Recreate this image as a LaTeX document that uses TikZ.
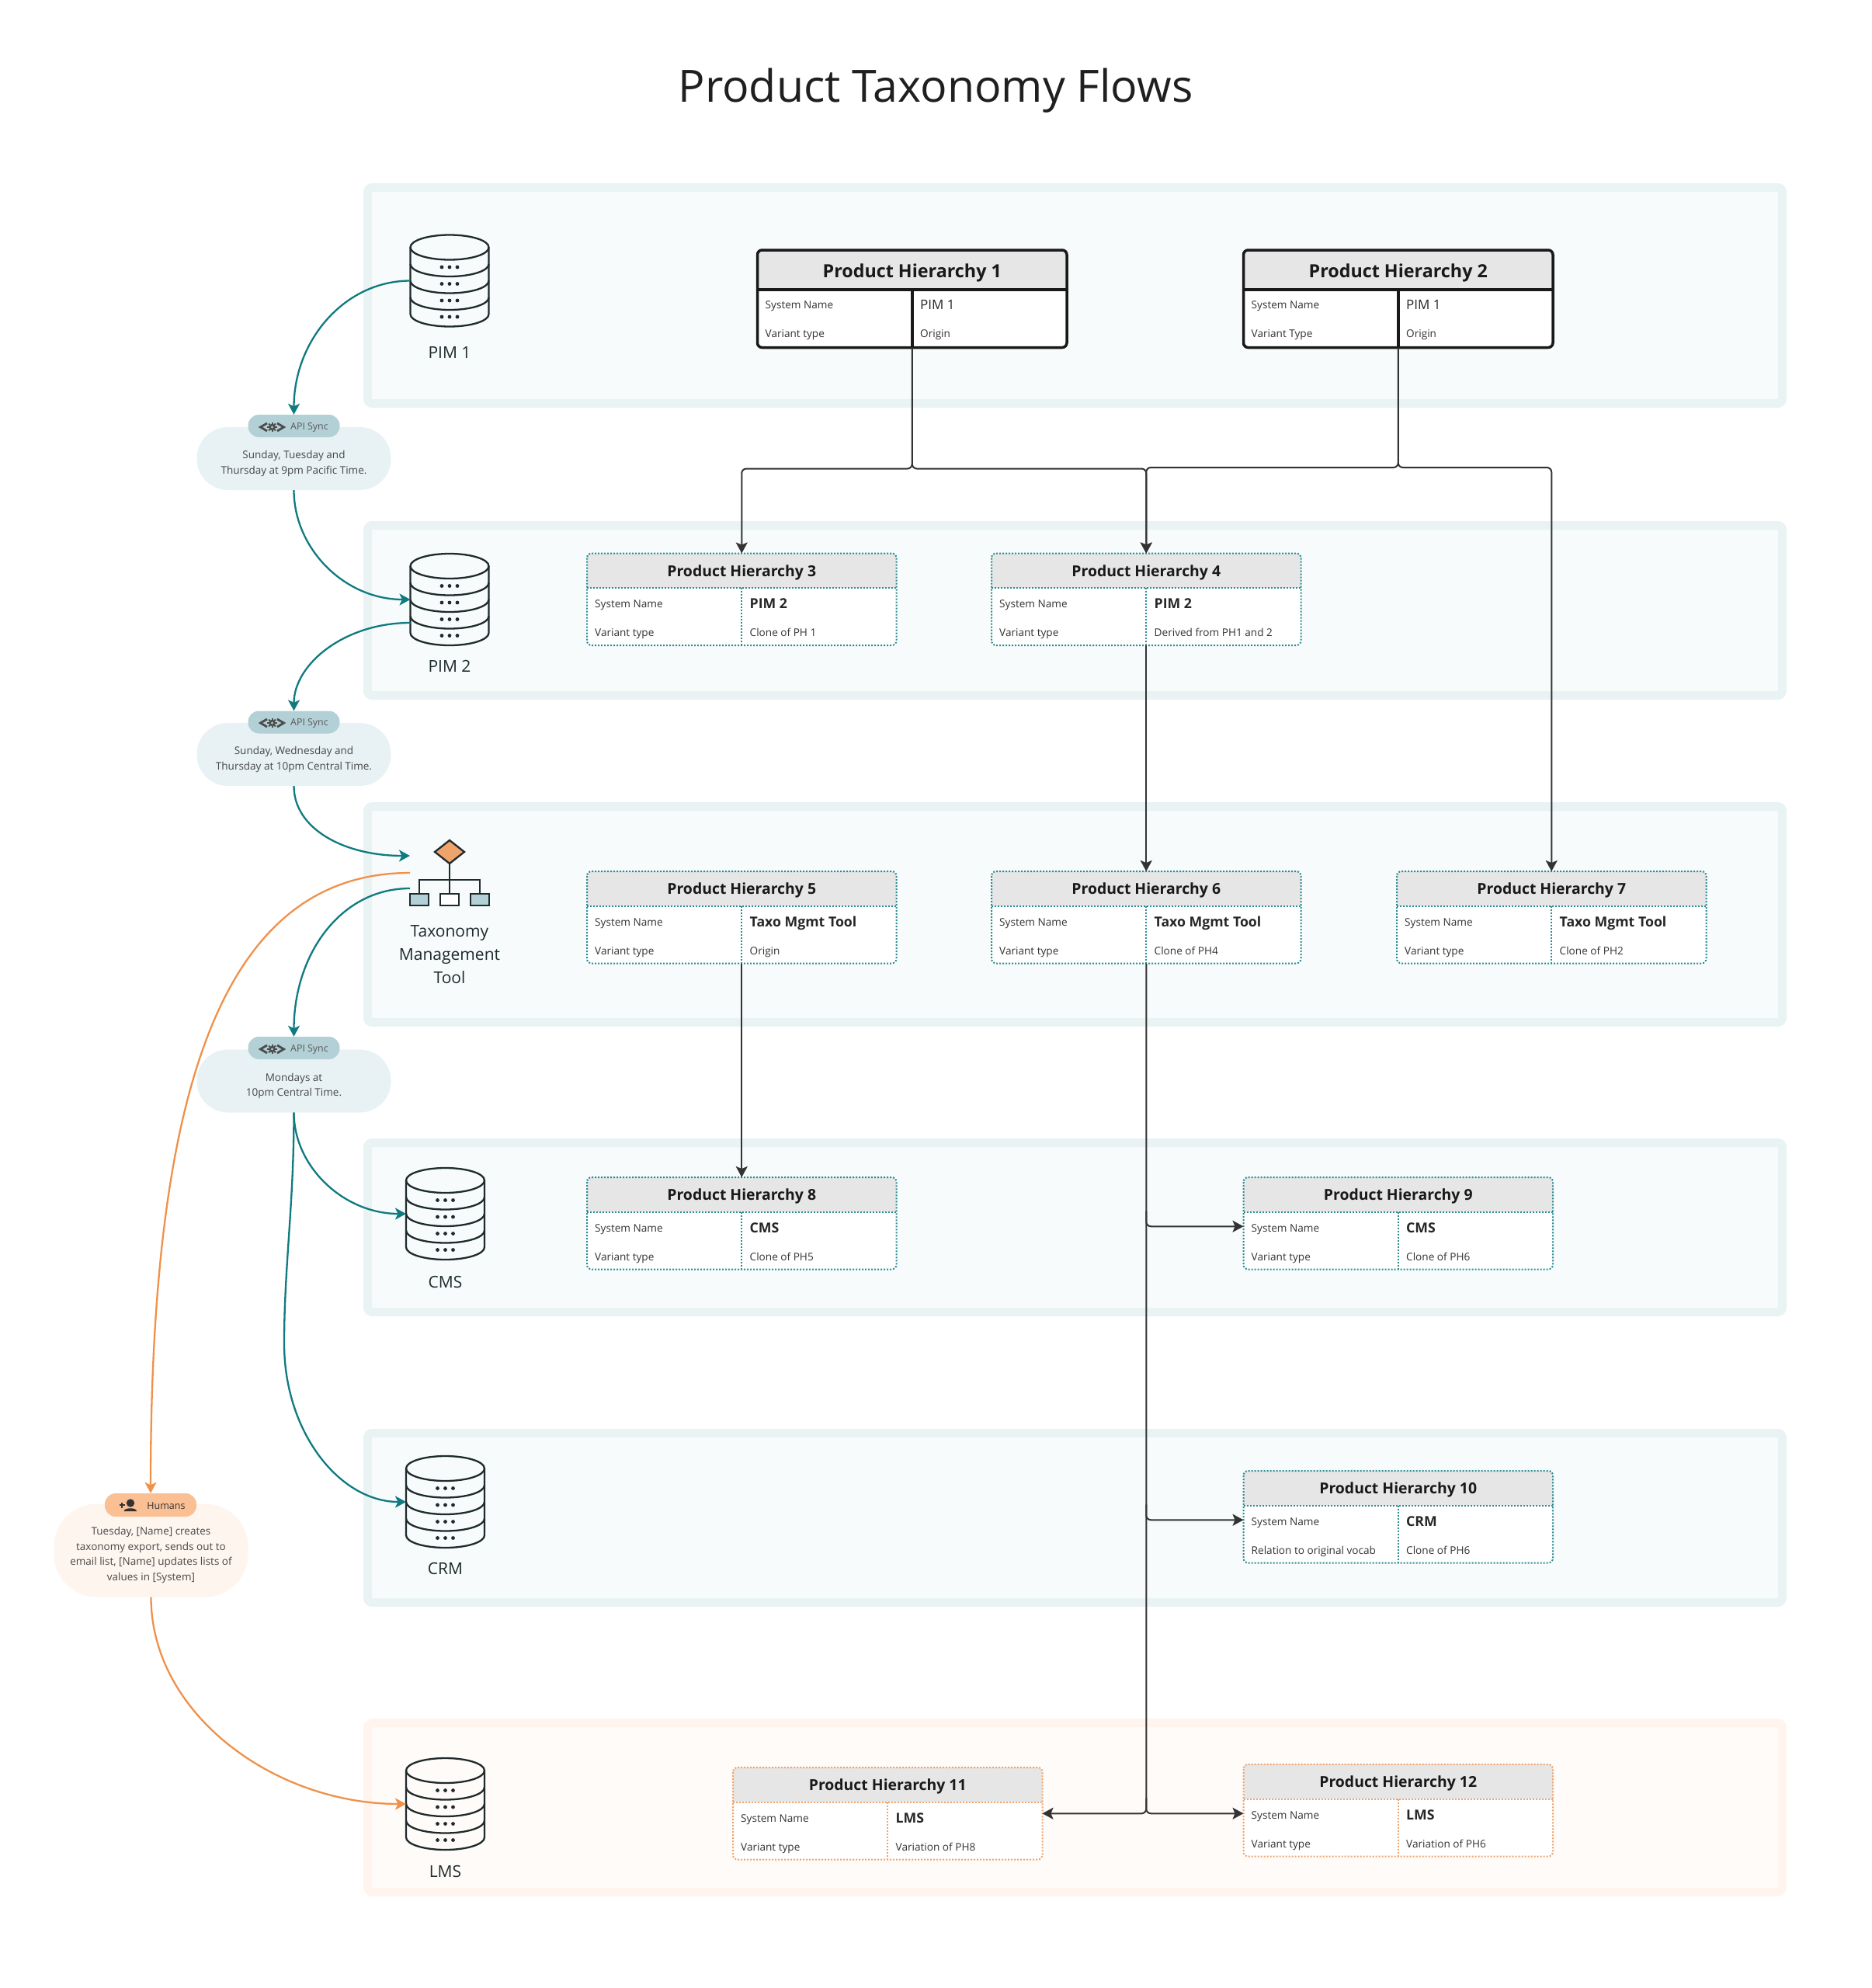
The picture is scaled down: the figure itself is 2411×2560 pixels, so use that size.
\documentclass[tikz,border=0pt]{standalone}
\usepackage{fontspec}
\setmainfont{Open Sans}
\usetikzlibrary{arrows.meta,calc}
\definecolor{teal1}{HTML}{0F7A80}
\definecolor{tealdot}{HTML}{2A8C92}
\definecolor{orange1}{HTML}{F0914A}
\definecolor{orangedot}{HTML}{EFA46C}
\definecolor{panelT}{HTML}{E9F3F4}
\definecolor{panelTi}{HTML}{F7FBFC}
\definecolor{panelO}{HTML}{FFF5EE}
\definecolor{panelOi}{HTML}{FFFBF8}
\definecolor{hdr}{HTML}{E6E6E6}
\definecolor{ink}{HTML}{1E2A2C}
\definecolor{conn}{HTML}{333333}
\definecolor{pillT}{HTML}{E8F2F4}
\definecolor{badgeT}{HTML}{B2D0D6}
\definecolor{pillO}{HTML}{FFF5EF}
\definecolor{badgeO}{HTML}{FBBF94}
\newcommand{\szf}[2]{\fontsize{#1}{#2}\selectfont}
\tikzset{
  x=1pt,y=-1pt,
  panelblue/.style={draw=panelT,fill=panelTi,line width=11pt,rounded corners=6pt},
  panelorange/.style={draw=panelO,fill=panelOi,line width=11pt,rounded corners=6pt},
  heavybox/.style={draw=black!90,line width=3.5pt,solid},
  tealbox/.style={draw=tealdot,line width=2pt,dotted},
  orangebox/.style={draw=orangedot,line width=2pt,dotted},
  flow/.style={draw=conn,line width=2pt,rounded corners=6pt,-{Stealth[length=14pt,width=15pt,inset=3pt]}},
  teala/.style={draw=teal1,line width=2.3pt,-{Stealth[length=14pt,width=15pt,inset=3.5pt]}},
  orangea/.style={draw=orange1,line width=2.3pt,-{Stealth[length=14pt,width=15pt,inset=3.5pt]}},
  lbl/.style={inner sep=0pt,text=ink,font=\szf{21}{30},align=center},
  pill/.style={inner sep=0pt,minimum width=250pt,rounded corners=40pt},
  pilltext/.style={inner sep=0pt,align=center,text=black!72,font=\szf{13.5}{19.5}},
  badge/.style={inner sep=0pt,minimum width=118pt,minimum height=29pt,rounded corners=14pt},
  icoline/.style={draw=ink,line width=2.3pt},
}
\newcommand{\tabH}{118.5}\newcommand{\tabHead}{44.5}\newcommand{\rowA}{67.5}\newcommand{\rowB}{104.5}
\newcommand{\titleFont}{}\newcommand{\valFont}{}\newcommand{\titleDrop}{}
\newcommand{\heavymode}{%
  \renewcommand{\tabH}{125.5}\renewcommand{\tabHead}{51}\renewcommand{\rowA}{73}\renewcommand{\rowB}{110}%
  \renewcommand{\titleDrop}{4}%
  \renewcommand{\titleFont}{\bfseries\szf{23.3}{30}}\renewcommand{\valFont}{\szf{17}{24}}}
\newcommand{\lightmode}{%
  \renewcommand{\tabH}{118.5}\renewcommand{\tabHead}{44.5}\renewcommand{\rowA}{67.5}\renewcommand{\rowB}{104.5}%
  \renewcommand{\titleDrop}{2.5}%
  \renewcommand{\titleFont}{\bfseries\szf{19.4}{26}}\renewcommand{\valFont}{\bfseries\szf{17.7}{24}}}
% name,x,top,border style,title,label1,value1,label2,value2
\newcommand{\phtable}[9]{%
  \node[anchor=north west,inner sep=0pt,outer sep=0pt,minimum width=398.5pt,minimum height=\tabH pt,fill=white] (#1) at (#2,#3) {};
  \fill[hdr] (#2,#3+\tabHead) [rounded corners=6pt] -- (#2,#3) -- (#2+398.5,#3) [sharp corners] -- (#2+398.5,#3+\tabHead) -- cycle;
  \draw[#4] (#2,#3+\tabHead) -- (#2+398.5,#3+\tabHead);
  \draw[#4] (#2+199.25,#3+\tabHead) -- (#2+199.25,#3+\tabH);
  \draw[#4,rounded corners=6pt] (#1.north west) rectangle (#1.south east);
  \node[inner sep=0pt,text=black!90,font=\titleFont] (#1t) at (#2+199.25,#3+\tabHead/2+\titleDrop) {#5};
  \node[anchor=mid west,inner sep=0pt,text=black!80,font=\szf{13.6}{18}] (#1a) at (#2+10,#3+\rowA) {#6};
  \node[anchor=mid west,inner sep=0pt,text=black!85,font=\valFont] (#1b) at (#2+209.5,#3+\rowA+1) {#7};
  \node[anchor=mid west,inner sep=0pt,text=black!80,font=\szf{13.6}{18}] (#1c) at (#2+10,#3+\rowB) {#8};
  \node[anchor=mid west,inner sep=0pt,text=black!80,font=\szf{13.6}{18}] (#1d) at (#2+209.5,#3+\rowB) {#9};
}
% name,cx,top
\newcommand{\dbicon}[3]{%
  \node[anchor=north,inner sep=0pt,outer sep=0pt,minimum width=101pt,minimum height=118pt] (#1) at (#2,#3) {};
  \draw[icoline] (#2-50.5,#3+16) -- (#2-50.5,#3+102) arc[start angle=180,end angle=360,x radius=50.5pt,y radius=16pt] -- (#2+50.5,#3+16);
  \draw[icoline] (#2,#3+16) ellipse[x radius=50.5pt,y radius=16pt];
  \foreach \d in {37.5,59,80.5}{\draw[icoline] (#2-50.5,#3+\d) arc[start angle=180,end angle=360,x radius=50.5pt,y radius=16pt];}
  \foreach \d in {41.5,63,84.5,105.5}{\foreach \e in {-10,0,10}{\fill[ink] (#2+\e,#3+\d) circle[radius=2.4pt];}}
}
% centre x of the gear, y
\newcommand{\apiicon}[2]{%
  \draw[draw=black!70,line width=2.8pt] (#1-6.5,#2-5) -- (#1-15,#2) -- (#1-6.5,#2+5);
  \draw[draw=black!70,line width=2.8pt] (#1+6.5,#2-5) -- (#1+15,#2) -- (#1+6.5,#2+5);
  \fill[black!70] (#1,#2) circle[radius=4.2pt];
  \foreach \a in {0,45,...,315}{\draw[draw=black!70,line width=2pt] ($(#1,#2)+(\a:3.5)$) -- ($(#1,#2)+(\a:6.2)$);}
  \fill[badgeT] (#1,#2) circle[radius=1.6pt];
}
\begin{document}
\begin{tikzpicture}
\useasboundingbox (0,0) rectangle (2411,2560);
\fill[white] (0,0) rectangle (2411,2560);
\node[inner sep=0pt,text=black!88,font=\szf{57.3}{60}] (title) at (1205,116.5) {Product Taxonomy Flows};
% panels
\filldraw[panelblue] (473.5,241.5) rectangle (2295.5,519.5);
\filldraw[panelblue] (473.5,676.5) rectangle (2295.5,895.5);
\filldraw[panelblue] (473.5,1038.5) rectangle (2295.5,1316.5);
\filldraw[panelblue] (473.5,1471.5) rectangle (2295.5,1689.5);
\filldraw[panelblue] (473.5,1845.5) rectangle (2295.5,2063.5);
\filldraw[panelorange] (473.5,2218.5) rectangle (2295.5,2436.5);
% tables
\heavymode
\phtable{ph1}{975.5}{322}{heavybox}{Product Hierarchy 1}{System Name}{PIM 1}{Variant type}{Origin}
\phtable{ph2}{1601.5}{322}{heavybox}{Product Hierarchy 2}{System Name}{PIM 1}{Variant Type}{Origin}
\lightmode
\phtable{ph3}{756}{712.5}{tealbox}{Product Hierarchy 3}{System Name}{PIM 2}{Variant type}{Clone of PH 1}
\phtable{ph4}{1277}{712.5}{tealbox}{Product Hierarchy 4}{System Name}{PIM 2}{Variant type}{Derived from PH1 and 2}
\phtable{ph5}{756}{1122}{tealbox}{Product Hierarchy 5}{System Name}{Taxo Mgmt Tool}{Variant type}{Origin}
\phtable{ph6}{1277}{1122}{tealbox}{Product Hierarchy 6}{System Name}{Taxo Mgmt Tool}{Variant type}{Clone of PH4}
\phtable{ph7}{1799}{1122}{tealbox}{Product Hierarchy 7}{System Name}{Taxo Mgmt Tool}{Variant type}{Clone of PH2}
\phtable{ph8}{756}{1516}{tealbox}{Product Hierarchy 8}{System Name}{CMS}{Variant type}{Clone of PH5}
\phtable{ph9}{1601.5}{1516}{tealbox}{Product Hierarchy 9}{System Name}{CMS}{Variant type}{Clone of PH6}
\phtable{ph10}{1601.5}{1894}{tealbox}{Product Hierarchy 10}{System Name}{CRM}{Relation to original vocab}{Clone of PH6}
\phtable{ph11}{944}{2276}{orangebox}{Product Hierarchy 11}{System Name}{LMS}{Variant type}{Variation of PH8}
\phtable{ph12}{1601.5}{2272}{orangebox}{Product Hierarchy 12}{System Name}{LMS}{Variant type}{Variation of PH6}
% flows
\coordinate (bus) at (0,603.5);
\coordinate (busb) at (0,602);
\coordinate (ph9p) at ([yshift=-4pt]ph9.west);
\coordinate (ph10p) at ([yshift=-4pt]ph10.west);
\coordinate (ph12p) at ([yshift=-4pt]ph12.west);
\coordinate (trunka) at ($(ph6.south |- ph9p)+(0,-20)$);
\coordinate (trunkb) at ($(ph6.south |- ph10p)+(0,-20)$);
\coordinate (trunkc) at ($(ph6.south |- ph12p)+(0,-20)$);
\draw[flow] (ph1.south) -- (ph1.south |- bus) -- (ph3.north |- bus) -- (ph3.north);
\draw[flow] (ph1.south) -- (ph1.south |- bus) -- (ph4.north |- bus) -- (ph4.north);
\draw[flow] (ph2.south) -- (ph2.south |- busb) -- (ph4.north |- busb) -- (ph4.north);
\draw[flow] (ph2.south) -- (ph2.south |- busb) -- (ph7.north |- busb) -- (ph7.north);
\draw[flow] (ph4.south) -- (ph6.north);
\draw[flow] (ph5.south) -- (ph8.north);
\draw[flow] (trunka) -- (ph6.south |- ph9p) -- (ph9p);
\draw[flow] (trunkb) -- (ph6.south |- ph10p) -- (ph10p);
\draw[flow] (ph6.south) -- (ph6.south |- ph11.east) -- (ph11.east);
\draw[flow] (trunkc) -- (ph6.south |- ph12p) -- (ph12p);
% database icons
\dbicon{pim1}{579}{302.5}
\dbicon{pim2}{579}{713}
\dbicon{cms}{573.5}{1504}
\dbicon{crm}{573.5}{1875}
\dbicon{lms}{573.5}{2264}
\node[lbl] (pim1l) at (579,454) {PIM 1};
\node[lbl] (pim2l) at (579,857.5) {PIM 2};
\node[lbl] (cmsl) at (573.5,1651) {CMS};
\node[lbl] (crml) at (573.5,2020) {CRM};
\node[lbl] (lmsl) at (573.5,2410) {LMS};
% tool icon
\node[inner sep=0pt,outer sep=0pt,minimum width=102pt,minimum height=84pt] (tool) at (579,1124) {};
\draw[icoline,fill=orangedot] (579,1082) -- (598,1097) -- (579,1112) -- (560,1097) -- cycle;
\draw[icoline] (579,1112) -- (579,1151) (540,1151) -- (540,1133) -- (618,1133) -- (618,1151);
\draw[icoline,fill=badgeT] (528,1151) rectangle (552,1166);
\draw[icoline,fill=white] (567,1151) rectangle (591,1166);
\draw[icoline,fill=badgeT] (606,1151) rectangle (630,1166);
\node[lbl] (tooll) at (579,1229) {Taxonomy\\Management\\Tool};
% sync pills
\node[pill,fill=pillT,minimum height=81pt] (s1) at (378.5,590.5) {};
\node[pilltext] (s1t) at (378.5,597) {Sunday, Tuesday and\\Thursday at 9pm Pacific Time.};
\node[badge,fill=badgeT] (s1b) at (378.5,548.5) {};
\node[pill,fill=pillT,minimum height=81pt] (s2) at (378.5,971.5) {};
\node[pilltext] (s2t) at (378.5,978) {Sunday, Wednesday and\\Thursday at 10pm Central Time.};
\node[badge,fill=badgeT] (s2b) at (378.5,930) {};
\node[pill,fill=pillT,minimum height=81pt] (s3) at (378.5,1392) {};
\node[pilltext] (s3t) at (378.5,1398.5) {Mondays at\\10pm Central Time.};
\node[badge,fill=badgeT] (s3b) at (378.5,1349.5) {};
\foreach \by/\nm in {549/a,930/b,1350/c}{
  \apiicon{350.5}{\by+1}
  \node[anchor=mid west,inner sep=0pt,text=black!65,font=\szf{12.4}{16}] (api\nm) at (374,\by+2) {API Sync};
}
% humans
\node[pill,fill=pillO,minimum height=120pt,rounded corners=55pt] (h) at (194.5,1996.5) {};
\node[pilltext,font=\szf{13.5}{19.4}] (htext) at (194.5,2002.5) {Tuesday, [Name] creates\\taxonomy export, sends out to\\email list, [Name] updates lists of\\values in [System]};
\node[badge,fill=badgeO,minimum height=30pt] (hb) at (194,1938) {};
\node[inner sep=0pt,text=black!80,font=\szf{12.5}{14}] (hbt) at (214,1939) {Humans};
\fill[black!80] (168,1935.5) circle[radius=5.2pt];
\fill[black!80] (159.5,1946) .. controls (160,1941) and (176,1941) .. (176,1946) -- cycle;
\draw[black!80,line width=1.6pt] (153.5,1938) -- (160.5,1938) (157,1934.5) -- (157,1941.5);
% teal curves
\draw[teala] (pim1.west) .. controls +(-85,0) and +(0,-95) .. (s1b.north);
\draw[teala] (s1.south) .. controls +(0,75) and +(-85,0) .. (pim2.west);
\coordinate (pim2o) at ([yshift=-30pt]pim2.west);
\coordinate (tooli) at ([yshift=22pt]tool.west);
\coordinate (toolo) at ([yshift=-20pt]tool.west);
\coordinate (crmbend) at (366,1730);
\draw[teala] (pim2o) .. controls +(-85,0) and +(0,-60) .. (s2b.north);
\draw[teala] (s2.south) .. controls +(0,55) and +(-85,0) .. (tooli);
\draw[teala] (toolo) .. controls +(-90,0) and +(0,-105) .. (s3b.north);
\draw[teala] (s3.south) .. controls +(0,70) and +(-80,0) .. (cms.west);
\draw[teala] (s3.south) .. controls +(0,120) and +(0,-100) .. (crmbend) .. controls +(0,115) and +(-85,0) .. (crm.west);
% orange curves
\draw[orangea] (tool.west) .. controls +(-250,0) and +(0,-500) .. (hb.north);
\draw[orangea] (h.south) .. controls +(0,150) and +(-170,0) .. (lms.west);
\end{tikzpicture}
\end{document}
